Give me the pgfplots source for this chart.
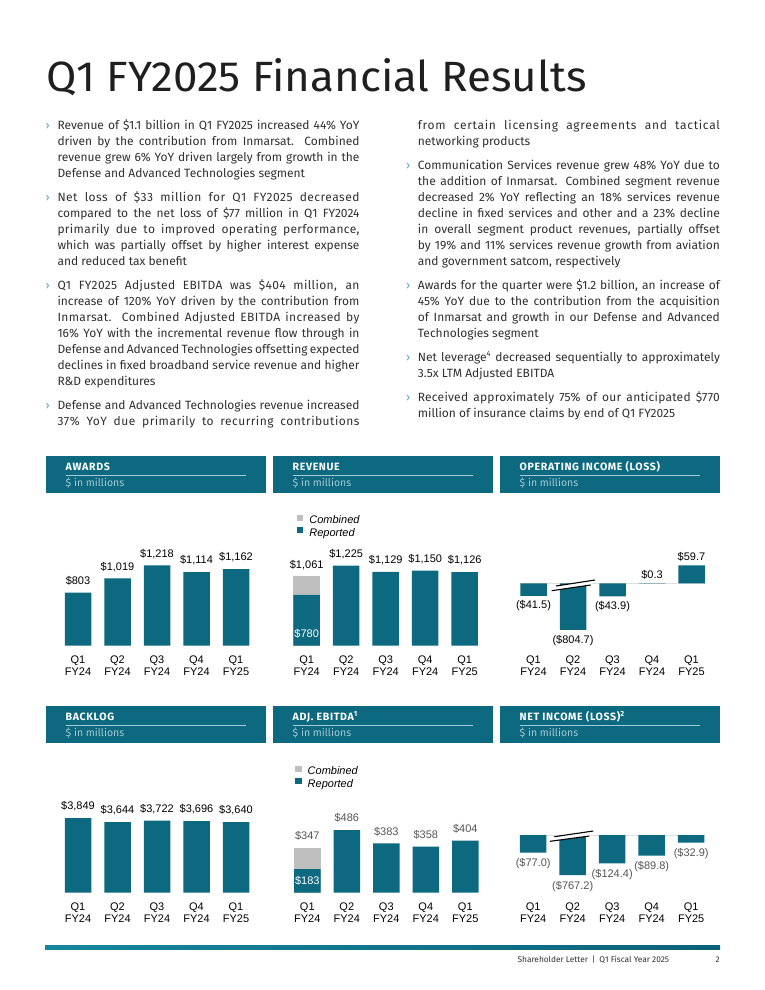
\documentclass[border=0pt]{standalone}
\usepackage{pgfplots}
\pgfplotsset{compat=1.18}
\usepackage{graphicx}
\usepackage{fontspec}
\setmainfont{Fira Sans}
\newfontfamily\arial{Liberation Sans}
\newfontfamily\hdr{Fira Sans}[LetterSpace=6]
\IfFontExistsTF{FiraSans-Light.otf}{\newfontfamily\titlef{FiraSans-Light.otf}}{\newfontfamily\titlef{Fira Sans}}
\definecolor{vteal}{RGB}{12,105,127}
\definecolor{vgrey}{RGB}{191,191,191}
\definecolor{txt}{RGB}{48,48,48}
\definecolor{subc}{RGB}{165,202,213}
\definecolor{bul}{RGB}{90,165,195}
\definecolor{lab}{RGB}{85,85,85}
\definecolor{footA}{RGB}{20,135,158}
\definecolor{footB}{RGB}{12,98,120}
\newcommand\bodyf{\fontsize{12}{16}\selectfont}
\newcommand\J[3]{\node[anchor=base west,inner sep=0pt,text=txt,font=\bodyf] at (#1pt,-#2pt) {\makebox[302pt][s]{#3}};}
\newcommand\JS[4]{\node[anchor=base west,inner sep=0pt,text=txt,font=\bodyf] at (#1pt,-#2pt) {\makebox[302pt][s]{\addfontfeature{LetterSpace=#3}#4}};}
\newcommand\Lf[3]{\node[anchor=base west,inner sep=0pt,text=txt,font=\bodyf] at (#1pt,-#2pt) {#3};}
\newcommand\B[2]{\node[anchor=base west,inner sep=0pt,text=bul,font=\bodyf] at (#1pt,-#2pt) {›};}
\newcommand\panel[3]{%
  \fill[vteal] (#1pt,-#2pt) rectangle ++(220pt,-37pt);
  \node[anchor=base west,inner sep=0pt,text=white,font=\hdr\bfseries\fontsize{10.6}{12}\selectfont] at (#1pt+19.5pt,-#2pt-14.7pt) {#3};
  \draw[subc,line width=0.6pt] (#1pt+19.5pt,-#2pt-19pt) -- ++(180pt,0pt);
  \node[anchor=base west,inner sep=0pt,text=subc,font=\titlef\fontsize{10.5}{12}\selectfont] at (#1pt+19.5pt,-#2pt-30.7pt) {\$ in millions};
}
\pgfplotsset{
  vbase/.style={
    x=39.5pt, xmin=-0.5, xmax=4.5,
    anchor=south west, clip=false,
    hide y axis, axis x line*=bottom,
    x axis line style={draw=none},
    xtick={0,1,2,3,4},
    xticklabels={{Q1\\FY24},{Q2\\FY24},{Q3\\FY24},{Q4\\FY24},{Q1\\FY25}},
    major tick length=0pt,
    xticklabel style={font=\arial\fontsize{11}{12}\selectfont, align=center, inner sep=0pt, anchor=north, yshift=-10pt, text=black},
    point meta=explicit symbolic,
    nodes near coords,
    every node near coord/.append style={font=\arial\fontsize{11}{12}\selectfont, inner xsep=0pt, inner ysep=8pt, text height=8pt, text depth=0pt},
    legend cell align=left,
    legend image code/.code={\fill[##1] (0pt,-0.5pt) rectangle (6.5pt,6pt);},
    legend style={draw=none, fill=none, inner sep=0pt, row sep=0.5pt, font=\arial\itshape\fontsize{11}{12}\selectfont, nodes={inner sep=1pt}, /tikz/every odd column/.append style={column sep=5pt}},
  },
  tealbar/.style={ybar, bar width=26.5pt, fill=vteal, draw=none},
  greybar/.style={ybar, bar width=26.5pt, fill=vgrey, draw=none},
  below labels/.style={every node near coord/.append style={anchor=north}},
}
\begin{document}
\begin{tikzpicture}
\useasboundingbox (0pt,0pt) rectangle (765pt,-990pt);
\fill[white] (0pt,0pt) rectangle (765pt,-990pt);
% title
\node[anchor=base west,inner sep=0pt,text=black!88] at (46pt,-92pt) {\resizebox{540pt}{33pt}{\titlef Q1 FY2025 Financial Results}};
% left column
\B{45.5}{129.3}
\J{57.3}{129.3}{Revenue of \$1.1 billion in Q1 FY2025 increased 44\% YoY}
\J{57.3}{145.3}{driven by the contribution from Inmarsat.\ \ Combined}
\J{57.3}{161.3}{revenue grew 6\% YoY driven largely from growth in the}
\Lf{57.3}{177.3}{Defense and Advanced Technologies segment}
\B{45.5}{201.3}
\JS{57.3}{201.3}{4}{Net loss of \$33 million for Q1 FY2025 decreased}
\J{57.3}{217.3}{compared to the net loss of \$77 million in Q1 FY2024}
\JS{57.3}{233.3}{3}{primarily due to improved operating performance,}
\J{57.3}{249.3}{which was partially offset by higher interest expense}
\Lf{57.3}{265.3}{and reduced tax benefit}
\B{45.5}{289.3}
\JS{57.3}{289.3}{3}{Q1 FY2025 Adjusted EBITDA was \$404 million, an}
\J{57.3}{305.3}{increase of 120\% YoY driven by the contribution from}
\JS{57.3}{321.3}{3}{Inmarsat.\ \ Combined Adjusted EBITDA increased by}
\J{57.3}{337.3}{16\% YoY with the incremental revenue flow through in}
\J{57.3}{353.3}{Defense and Advanced Technologies offsetting expected}
\J{57.3}{369.3}{declines in fixed broadband service revenue and higher}
\Lf{57.3}{385.3}{R\&D expenditures}
\B{45.5}{409.3}
\J{57.3}{409.3}{Defense and Advanced Technologies revenue increased}
\JS{57.3}{425.3}{4}{37\% YoY due primarily to recurring contributions}
% right column
\JS{417.7}{129.3}{6}{from certain licensing agreements and tactical}
\Lf{417.7}{145.3}{networking products}
\B{406}{169.3}
\J{417.7}{169.3}{Communication Services revenue grew 48\% YoY due to}
\J{417.7}{185.3}{the addition of Inmarsat. Combined segment revenue}
\J{417.7}{201.3}{decreased 2\% YoY reflecting an 18\% services revenue}
\J{417.7}{217.3}{decline in fixed services and other and a 23\% decline}
\J{417.7}{233.3}{in overall segment product revenues, partially offset}
\J{417.7}{249.3}{by 19\% and 11\% services revenue growth from aviation}
\Lf{417.7}{265.3}{and government satcom, respectively}
\B{406}{289.3}
\J{417.7}{289.3}{Awards for the quarter were \$1.2 billion, an increase of}
\J{417.7}{305.3}{45\% YoY due to the contribution from the acquisition}
\J{417.7}{321.3}{of Inmarsat and growth in our Defense and Advanced}
\Lf{417.7}{337.3}{Technologies segment}
\B{406}{361.3}
\J{417.7}{361.3}{Net leverage\textsuperscript{\fontsize{7.5}{8}\selectfont 4} decreased sequentially to approximately}
\Lf{417.7}{377.3}{3.5x LTM Adjusted EBITDA}
\B{406}{401.3}
\JS{417.7}{401.3}{2}{Received approximately 75\% of our anticipated \$770}
\Lf{417.7}{417.3}{million of insurance claims by end of Q1 FY2025}
% panels
\panel{46}{456}{AWARDS}
\panel{273}{456}{REVENUE}
\panel{500}{456}{OPERATING INCOME (LOSS)}
\panel{46}{706}{BACKLOG}
\panel{273}{706}{ADJ. EBITDA\textsuperscript{1}}
\panel{500}{706}{NET INCOME (LOSS)\textsuperscript{2}}
% Awards
\begin{axis}[vbase, at={(58.25pt,-645.7pt)}, y=0.066pt, ymin=0, ymax=1500]
\addplot[tealbar] table[meta=l] {
x y l
0 803 {\$803}
1 1019 {\$1,019}
2 1218 {\$1,218}
3 1114 {\$1,114}
4 1162 {\$1,162}
};
\end{axis}
% Revenue
\begin{axis}[vbase, at={(286.95pt,-645.7pt)}, y=0.0653pt, ymin=0, ymax=1500,
  legend style={at={(axis cs:-0.253,2009)}, anchor=north west}]
\addplot[greybar] table[meta=l] {
x y l
0 1061 {\$1,061}
};
\addlegendentry{Combined}
\addplot[tealbar] table[meta=l] {
x y l
0 780 {\relax}
1 1225 {\$1,225}
2 1129 {\$1,129}
3 1150 {\$1,150}
4 1126 {\$1,126}
};
\addlegendentry{Reported}
\addplot[forget plot, draw=none, mark=none, every node near coord/.append style={text=white}] table[meta=l] {
x y l
0 0 {\$780}
};
\end{axis}
% Operating income
\begin{axis}[vbase, at={(513.75pt,-645.7pt)}, y=0.30pt, ymin=-208, ymax=150,
  every node near coord/.append style={inner ysep=5pt}]
\draw[black!12, line width=0.8pt] (axis cs:-0.35,0) -- (axis cs:4.35,0);
\addplot[tealbar, below labels, restrict y to domain*=-155.6:200] table[meta=l] {
x y l
0 -41.5 {(\$41.5)}
1 -804.7 {(\$804.7)}
2 -43.9 {(\$43.9)}
};
\addplot[tealbar] table[meta=l] {
x y l
3 0.3 {\$0.3}
4 59.7 {\$59.7}
};
\end{axis}
\fill[white] (556pt,-586pt) -- (595pt,-580pt) -- (590.7pt,-585pt) -- (551.7pt,-590.7pt) -- cycle;
\draw[line width=1.1pt] (556pt,-586pt) -- (595pt,-580pt);
\draw[line width=1.1pt] (551.7pt,-590.7pt) -- (590.7pt,-585pt);
% Backlog
\begin{axis}[vbase, at={(58.25pt,-892.7pt)}, y=0.0194pt, ymin=0, ymax=4500]
\addplot[tealbar] table[meta=l] {
x y l
0 3849 {\$3,849}
1 3644 {\$3,644}
2 3722 {\$3,722}
3 3696 {\$3,696}
4 3640 {\$3,640}
};
\end{axis}
% Adj. EBITDA
\begin{axis}[vbase, at={(287.55pt,-892.7pt)}, y=0.1287pt, ymin=0, ymax=600,
  every node near coord/.append style={text=lab},
  legend style={at={(axis cs:-0.311,988)}, anchor=north west}]
\addplot[greybar] table[meta=l] {
x y l
0 347 {\$347}
};
\addlegendentry{Combined}
\addplot[tealbar] table[meta=l] {
x y l
0 183 {\relax}
1 486 {\$486}
2 383 {\$383}
3 358 {\$358}
4 404 {\$404}
};
\addlegendentry{Reported}
\addplot[forget plot, draw=none, mark=none, every node near coord/.append style={text=white}] table[meta=l] {
x y l
0 0 {\$183}
};
\end{axis}
% Net income
\begin{axis}[vbase, at={(513.45pt,-892.7pt)}, y=0.228pt, ymin=-253, ymax=100,
  every node near coord/.append style={inner ysep=6pt, text=lab}]
\draw[black!12, line width=0.8pt] (axis cs:-0.35,0) -- (axis cs:4.35,0);
\addplot[tealbar, below labels, restrict y to domain*=-175.4:100] table[meta=l] {
x y l
0 -77.0 {(\$77.0)}
1 -767.2 {(\$767.2)}
2 -124.4 {(\$124.4)}
3 -89.8 {(\$89.8)}
4 -32.9 {(\$32.9)}
};
\end{axis}
\fill[white] (554.3pt,-836.7pt) -- (593.3pt,-831pt) -- (589.3pt,-836pt) -- (550pt,-841.3pt) -- cycle;
\draw[line width=1.1pt] (554.3pt,-836.7pt) -- (593.3pt,-831pt);
\draw[line width=1.1pt] (550pt,-841.3pt) -- (589.3pt,-836pt);
% footer
\shade[left color=footA, right color=footB] (45pt,-945.5pt) rectangle (720pt,-949.5pt);
\node[anchor=base east,inner sep=0pt,text=txt,font=\fontsize{8.3}{10}\selectfont] at (669.3pt,-962.3pt) {Shareholder Letter\hspace{4pt}|\hspace{4pt}Q1 Fiscal Year 2025};
\node[anchor=base east,inner sep=0pt,text=txt,font=\fontsize{8.3}{10}\selectfont] at (720pt,-962.3pt) {2};
\end{tikzpicture}
\end{document}
